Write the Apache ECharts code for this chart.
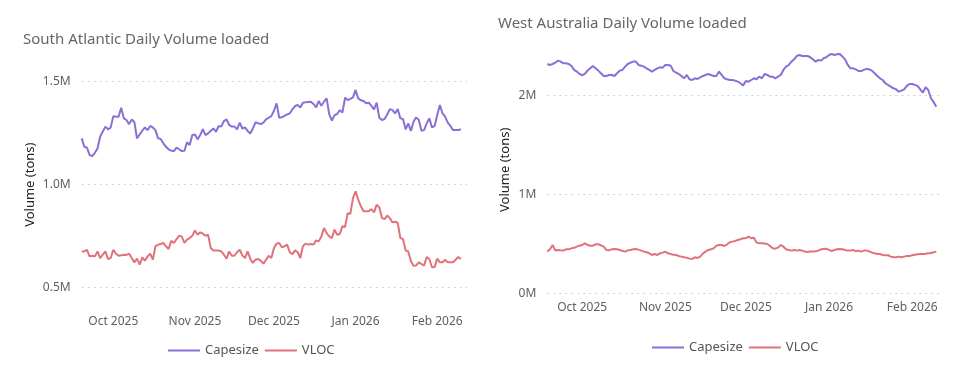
<!DOCTYPE html>
<html>
<head>
<meta charset="utf-8">
<script src="https://cdn.jsdelivr.net/npm/echarts@6/dist/echarts.min.js"></script>
<style>
html,body{margin:0;padding:0;background:#fff;}
#chart{width:967px;height:380px;}
</style>
</head>
<body>
<div id="chart"></div>
<script>
// Values in millions of tons, one per day
const saStart = [2025, 8, 19];   // 19 Sep 2025
const waStart = [2025, 8, 18];   // 18 Sep 2025
const monthNames = ['Jan','Feb','Mar','Apr','May','Jun','Jul','Aug','Sep','Oct','Nov','Dec'];
const seriesNames = ['Capesize', 'VLOC'];
const saTicks = [0.5, 1.0, 1.5];
const waTicks = [0, 1, 2];

const saCapesize = [1.225,1.184,1.180,1.144,1.139,1.155,1.176,1.233,1.258,1.282,
1.269,1.277,1.333,1.330,1.330,1.374,1.322,1.314,1.294,1.317,
1.303,1.225,1.244,1.262,1.278,1.265,1.285,1.278,1.265,1.225,
1.222,1.201,1.184,1.172,1.165,1.163,1.180,1.172,1.163,1.165,
1.206,1.193,1.241,1.244,1.220,1.241,1.269,1.241,1.249,1.262,
1.273,1.257,1.285,1.282,1.309,1.317,1.290,1.282,1.282,1.269,
1.301,1.273,1.278,1.261,1.249,1.273,1.303,1.298,1.294,1.301,
1.317,1.325,1.333,1.359,1.395,1.325,1.327,1.334,1.341,1.346,
1.366,1.382,1.387,1.375,1.398,1.400,1.402,1.403,1.392,1.375,
1.406,1.383,1.403,1.419,1.341,1.311,1.338,1.343,1.362,1.350,
1.422,1.411,1.417,1.424,1.460,1.419,1.410,1.406,1.395,1.398,
1.383,1.366,1.398,1.325,1.314,1.319,1.341,1.366,1.362,1.346,
1.367,1.322,1.319,1.269,1.298,1.261,1.306,1.327,1.314,1.262,
1.265,1.298,1.322,1.278,1.285,1.338,1.387,1.346,1.330,1.301,
1.285,1.265,1.265,1.265,1.269];

const saVLOC = [0.676,0.676,0.684,0.652,0.655,0.652,0.676,0.644,0.660,0.676,
0.639,0.644,0.684,0.665,0.655,0.657,0.660,0.659,0.665,0.644,
0.623,0.641,0.612,0.647,0.631,0.652,0.665,0.636,0.701,0.709,
0.712,0.717,0.701,0.688,0.728,0.717,0.736,0.752,0.749,0.717,
0.733,0.741,0.752,0.778,0.757,0.769,0.762,0.752,0.757,0.693,
0.681,0.681,0.681,0.676,0.660,0.641,0.676,0.655,0.655,0.672,
0.684,0.657,0.644,0.676,0.641,0.620,0.636,0.639,0.631,0.617,
0.636,0.655,0.644,0.693,0.714,0.717,0.696,0.701,0.709,0.672,
0.663,0.681,0.672,0.644,0.701,0.714,0.709,0.712,0.709,0.730,
0.725,0.749,0.790,0.765,0.749,0.741,0.782,0.757,0.761,0.798,
0.795,0.862,0.858,0.935,0.968,0.927,0.895,0.871,0.871,0.871,
0.882,0.866,0.903,0.890,0.838,0.833,0.850,0.838,0.817,0.820,
0.814,0.741,0.736,0.681,0.676,0.628,0.607,0.608,0.623,0.615,
0.607,0.649,0.639,0.599,0.600,0.641,0.623,0.623,0.636,0.623,
0.623,0.623,0.636,0.649,0.639];

const waCapesize = [2.321,2.311,2.321,2.334,2.355,2.345,2.328,2.328,2.321,2.301,
2.261,2.244,2.220,2.207,2.220,2.254,2.277,2.301,2.277,2.254,
2.227,2.200,2.200,2.210,2.210,2.200,2.227,2.254,2.261,2.294,
2.321,2.334,2.345,2.345,2.311,2.304,2.294,2.277,2.261,2.244,
2.261,2.277,2.287,2.284,2.311,2.311,2.304,2.250,2.233,2.220,
2.200,2.176,2.210,2.166,2.159,2.176,2.169,2.186,2.200,2.210,
2.220,2.210,2.200,2.200,2.244,2.210,2.176,2.166,2.159,2.159,
2.152,2.142,2.126,2.102,2.149,2.142,2.159,2.176,2.166,2.193,
2.176,2.220,2.210,2.193,2.193,2.176,2.193,2.210,2.261,2.294,
2.311,2.345,2.368,2.402,2.412,2.402,2.402,2.402,2.389,2.368,
2.345,2.362,2.355,2.379,2.389,2.412,2.422,2.412,2.419,2.422,
2.396,2.368,2.311,2.277,2.277,2.267,2.250,2.250,2.261,2.271,
2.267,2.254,2.227,2.200,2.176,2.159,2.126,2.109,2.092,2.075,
2.065,2.041,2.051,2.065,2.099,2.119,2.119,2.109,2.099,2.065,
2.031,2.085,2.058,1.974,1.935,1.889];

const waVLOC = [0.422,0.445,0.489,0.432,0.439,0.435,0.432,0.445,0.445,0.455,
0.460,0.472,0.482,0.489,0.506,0.489,0.482,0.482,0.496,0.496,
0.486,0.472,0.439,0.435,0.445,0.449,0.445,0.439,0.428,0.422,
0.435,0.439,0.445,0.449,0.442,0.432,0.422,0.415,0.405,0.388,
0.398,0.388,0.405,0.412,0.422,0.405,0.398,0.391,0.388,0.378,
0.371,0.364,0.361,0.351,0.348,0.364,0.358,0.371,0.405,0.422,
0.439,0.445,0.455,0.482,0.489,0.489,0.479,0.496,0.516,0.523,
0.530,0.540,0.547,0.557,0.557,0.574,0.557,0.563,0.513,0.506,
0.506,0.503,0.499,0.479,0.455,0.452,0.462,0.489,0.472,0.445,
0.439,0.432,0.439,0.432,0.439,0.432,0.422,0.418,0.422,0.422,
0.425,0.432,0.445,0.449,0.452,0.439,0.428,0.439,0.445,0.449,
0.445,0.439,0.432,0.432,0.439,0.425,0.432,0.422,0.432,0.432,
0.425,0.412,0.405,0.398,0.398,0.388,0.385,0.385,0.371,0.364,
0.364,0.371,0.364,0.371,0.378,0.378,0.385,0.391,0.395,0.398,
0.398,0.401,0.405,0.408,0.415,0.422];

const DAY = 86400000;
function toPairs(start, values) {
  return values.map((v, i) => [new Date(start[0], start[1], start[2] + i).getTime(), v]);
}
const saMin = new Date(saStart[0], saStart[1], saStart[2]).getTime();
const waMin = new Date(waStart[0], waStart[1], waStart[2]).getTime();

const FONT = "'Segoe UI', 'Noto Sans', sans-serif";
const PURPLE = '#8B6FD6';
const RED = '#E0737A';
const GRID_LINE = { show: true, lineStyle: { color: '#d2d2d2', type: [2, 4], width: 1 } };

function monthLabel(val) {
  const d = new Date(val);
  if (d.getDate() !== 1 || d.getHours() !== 0) return '';
  return monthNames[d.getMonth()] + ' ' + d.getFullYear();
}

function xAxisCfg(gridIndex, min, max, margin) {
  return {
    type: 'time', gridIndex, min, max,
    minInterval: 28 * DAY, maxInterval: 31 * DAY,
    axisLine: { show: false }, axisTick: { show: false }, splitLine: { show: false },
    axisLabel: { formatter: monthLabel, color: '#605E5C', fontSize: 12, fontFamily: FONT,
                 margin, showMinLabel: false, showMaxLabel: false, hideOverlap: false }
  };
}

const chart = echarts.init(document.getElementById('chart'), null, { renderer: 'canvas' });
chart.setOption({
  animation: false,
  backgroundColor: '#ffffff',
  title: [
    { text: 'South Atlantic Daily Volume loaded', left: 23, top: 32, padding: 0,
      textStyle: { color: '#666666', fontSize: 15, fontWeight: 'normal', fontFamily: FONT } },
    { text: 'West Australia Daily Volume loaded', left: 498, top: 16, padding: 0,
      textStyle: { color: '#666666', fontSize: 15, fontWeight: 'normal', fontFamily: FONT } }
  ],
  legend: [
    { data: seriesNames, left: 168, top: 344, icon: 'rect', itemWidth: 32, itemHeight: 2,
      itemGap: 6, padding: 0, textStyle: { color: '#555', fontSize: 13, fontFamily: FONT } },
    { data: seriesNames, left: 652, top: 341, icon: 'rect', itemWidth: 32, itemHeight: 2,
      itemGap: 6, padding: 0, textStyle: { color: '#555', fontSize: 13, fontFamily: FONT } }
  ],
  grid: [
    { left: 81.7, right: 967 - 467, top: 81.7, bottom: 380 - 287.7, containLabel: false },
    { left: 547.3, right: 967 - 943.3, top: 46.3, bottom: 380 - 293.3, containLabel: false }
  ],
  xAxis: [
    xAxisCfg(0, saMin, saMin + 146.3 * DAY, 28),
    xAxisCfg(1, waMin, waMin + 147.6 * DAY, 8)
  ],
  yAxis: [
    { type: 'value', gridIndex: 0, min: saTicks[0], max: saTicks[saTicks.length - 1], interval: 0.5,
      name: 'Volume (tons)', nameLocation: 'middle', nameGap: 45,
      nameTextStyle: { color: '#252423', fontSize: 13, fontFamily: FONT },
      axisLine: { show: false }, axisTick: { show: false },
      axisLabel: { formatter: v => v.toFixed(1) + 'M', color: '#605E5C', fontSize: 12, fontFamily: FONT, margin: 11 },
      splitLine: GRID_LINE },
    { type: 'value', gridIndex: 1, min: waTicks[0], max: 2.5, interval: 0.5,
      name: 'Volume (tons)', nameLocation: 'middle', nameGap: 36,
      nameTextStyle: { color: '#252423', fontSize: 13, fontFamily: FONT },
      axisLine: { show: false }, axisTick: { show: false },
      axisLabel: { formatter: v => (waTicks.indexOf(v) >= 0 ? v + 'M' : ''), color: '#605E5C', fontSize: 12, fontFamily: FONT, margin: 11 },
      splitLine: { show: true, showMaxLine: false,
        lineStyle: { color: ['#d2d2d2', 'rgba(0,0,0,0)'], type: [2, 4], width: 1 } } }
  ],
  series: [
    { name: 'Capesize', type: 'line', xAxisIndex: 0, yAxisIndex: 0, data: toPairs(saStart, saCapesize),
      showSymbol: false, symbol: 'none', color: PURPLE, lineStyle: { width: 2, color: PURPLE } },
    { name: 'VLOC', type: 'line', xAxisIndex: 0, yAxisIndex: 0, data: toPairs(saStart, saVLOC),
      showSymbol: false, symbol: 'none', color: RED, lineStyle: { width: 2, color: RED } },
    { name: 'Capesize', type: 'line', xAxisIndex: 1, yAxisIndex: 1, data: toPairs(waStart, waCapesize),
      showSymbol: false, symbol: 'none', color: PURPLE, lineStyle: { width: 2, color: PURPLE } },
    { name: 'VLOC', type: 'line', xAxisIndex: 1, yAxisIndex: 1, data: toPairs(waStart, waVLOC),
      showSymbol: false, symbol: 'none', color: RED, lineStyle: { width: 2, color: RED } }
  ]
});
</script>
</body>
</html>
